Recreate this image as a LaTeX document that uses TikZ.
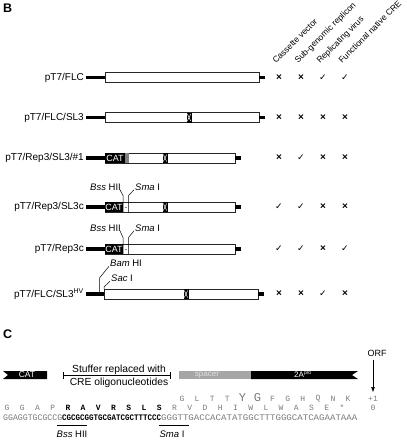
\documentclass[tikz,border=0pt]{standalone}
\usepackage{fontspec}
\setmainfont{Liberation Sans}
\newfontfamily\seqfont{Liberation Mono}
\newfontfamily\dvs{DejaVu Sans}
\usetikzlibrary{arrows.meta}
\definecolor{seqgrey}{HTML}{7A7A7A}
\definecolor{spgrey}{HTML}{A6A6A6}
\tikzset{
  lbl/.style={font=\fontsize{10}{12}\selectfont, anchor=east, inner sep=0pt},
  hdr/.style={font=\fontsize{8.5}{10}\selectfont, rotate=45, anchor=base west, inner sep=0pt},
  mk/.style={font=\fontsize{10}{10}\selectfont\bfseries, inner sep=0pt},
  ckm/.style={font=\fontsize{9}{10}\selectfont\dvs, inner sep=0pt},
  thk/.style={line width=3.5pt},
  vbox/.style={draw=black!85, line width=0.6pt, fill=white},
  site/.style={font=\fontsize{9.5}{11}\selectfont, inner sep=0pt},
  leader/.style={line width=0.5pt},
  panel/.style={font=\fontsize{12.5}{14}\selectfont\bfseries, inner sep=0pt, anchor=north west},
  aa/.style={font=\fontsize{8}{10}\selectfont\seqfont, text=seqgrey, inner sep=0pt},
  aab/.style={font=\fontsize{8}{10}\selectfont\seqfont\bfseries, text=black, inner sep=0pt},
  seq/.style={font=\fontsize{8.5}{10}\selectfont\seqfont, inner sep=0pt, anchor=west},
}
\newcommand\xbox[2]{% x, y centre
  \fill[black] (#1-2.5,#2-5) rectangle (#1+2.5,#2+5);
  \draw[white, line width=0.5pt] (#1-1.7,#2-3.5) -- (#1+1.7,#2+3.5) (#1-1.7,#2+3.5) -- (#1+1.7,#2-3.5);
}
\begin{document}
\begin{tikzpicture}[x=1pt,y=-1pt]
\useasboundingbox (0,0) rectangle (407,440);

\node[panel] (B) at (3,4) {B};

% column headers
\node[hdr] (h1) at (276,64) {Cassette vector};
\node[hdr] (h2) at (298,64) {Sub-genomic replicon};
\node[hdr] (h3) at (320,64) {Replicating virus};
\node[hdr] (h4) at (342,64) {Functional native CRE};

% Row 1
\def\ry{77.5}
\node[lbl] (l1) at (84,\ry) {pT7/FLC};
\draw[thk] (86,\ry) -- (105,\ry);
\draw[vbox] (105,\ry-5) rectangle (259,\ry+5);
\draw[thk] (259,\ry) -- (265,\ry);

% Row 2
\def\ry{117.5}
\node[lbl] (l2) at (84,\ry) {pT7/FLC/SL3};
\draw[thk] (86,\ry) -- (105,\ry);
\draw[vbox] (105,\ry-5) rectangle (259,\ry+5);
\xbox{189}{\ry}
\draw[thk] (259,\ry) -- (265,\ry);

% Row 3
\def\ry{158}
\node[lbl] (l3) at (84,\ry) {pT7/Rep3/SL3/\#1};
\draw[thk] (86,\ry) -- (105,\ry);
\draw[vbox] (105,\ry-5) rectangle (235,\ry+5);
\fill[black] (105,\ry-5) rectangle (125,\ry+5);
\fill[gray] (125,\ry-5) rectangle (129,\ry+5);
\node[font=\fontsize{9}{10}\selectfont, text=white, inner sep=0pt] (cat3) at (115,\ry) {CAT};
\xbox{165}{\ry}
\draw[thk] (235,\ry) -- (241,\ry);

% Row 4
\def\ry{207}
\node[lbl] (l4) at (84,\ry) {pT7/Rep3/SL3c};
\draw[thk] (86,\ry) -- (105,\ry);
\draw[vbox] (105,\ry-5) rectangle (235,\ry+5);
\fill[black] (105,\ry-5) rectangle (123,\ry+5);
\node[font=\fontsize{9}{10}\selectfont, text=white, inner sep=0pt] (cat4) at (114,\ry) {CAT};
\draw[gray, line width=0.8pt] (124.5,\ry) -- (127,\ry);
\xbox{165}{\ry}
\draw[thk] (235,\ry) -- (241,\ry);
\node[site, anchor=base east] (bss4) at (121,190) {\textit{Bss} HII};
\node[site, anchor=base west] (sma4) at (135,190) {\textit{Sma} I};
\coordinate (bss4s) at (123,\ry+5);
\coordinate (sma4s) at (128.5,\ry+5);
\draw[leader] (bss4.south east) ++(-1,-0.5) -- (123,195.5) -- (bss4s);
\draw[leader] (sma4.south west) ++(-1,-0.5) -- (128.5,195.5) -- (sma4s);

% Row 5
\def\ry{249}
\node[lbl] (l5) at (84,\ry) {pT7/Rep3c};
\draw[thk] (86,\ry) -- (105,\ry);
\draw[vbox] (105,\ry-5) rectangle (235,\ry+5);
\fill[black] (105,\ry-5) rectangle (123,\ry+5);
\node[font=\fontsize{9}{10}\selectfont, text=white, inner sep=0pt] (cat5) at (114,\ry) {CAT};
\draw[gray, line width=0.8pt] (124.5,\ry) -- (127,\ry);
\draw[thk] (235,\ry) -- (241,\ry);
\node[site, anchor=base east] (bss5) at (121,231) {\textit{Bss} HII};
\node[site, anchor=base west] (sma5) at (135,231) {\textit{Sma} I};
\coordinate (bss5s) at (123,\ry+5);
\coordinate (sma5s) at (128.5,\ry+5);
\draw[leader] (bss5.south east) ++(-1,-0.5) -- (123,237.5) -- (bss5s);
\draw[leader] (sma5.south west) ++(-1,-0.5) -- (128.5,237.5) -- (sma5s);

% Row 6
\def\ry{294}
\node[lbl] (l6) at (84,\ry) {pT7/FLC/SL3\textsuperscript{HV}};
\draw[thk] (86,\ry) -- (104,\ry);
\draw[vbox] (104,\ry-5) rectangle (258,\ry+5);
\xbox{186}{\ry}
\draw[thk] (258,\ry) -- (264,\ry);
\node[site, anchor=base west] (bam6) at (110,266.5) {\textit{Bam} HI};
\node[site, anchor=base west] (sac6) at (111,281.5) {\textit{Sac} I};
\coordinate (bam6s) at (99.5,\ry);
\coordinate (sac6s) at (104,\ry-5);
\draw[leader] (bam6.south west) ++(-1,-0.5) -- (99.5,278) -- (bam6s);
\draw[leader] (sac6.south west) ++(-1,-0.5) -- (104,287) -- (sac6s);

% marks
\foreach \r/\y/\a/\b/\c/\d in {1/77.5/x/x/c/c, 2/117.5/x/x/x/x, 3/158/x/c/x/x, 4/207/c/c/x/x, 5/249/c/c/x/c, 6/294/x/x/c/x}{
  \foreach \v/\cx/\k in {\a/279/1, \b/301/2, \c/323/3, \d/345/4}{
    \if\v x
      \node[mk] (m\r\k) at (\cx,\y) {×};
    \else
      \node[ckm] (m\r\k) at (\cx,\y) {✓};
    \fi
  }
}

% Panel C
\node[panel] (C) at (3,330) {C};

\fill[black] (3,371) -- (47,371) -- (47,379) -- (3,379) -- (8,375) -- cycle;
\node[font=\fontsize{8.5}{10}\selectfont, text=white, inner sep=0pt] (catc) at (27,375) {CAT};

\draw[line width=0.6pt] (63,372) -- (63,379) (63,375.5) -- (170,375.5) (170,372) -- (170,379);
\node[font=\fontsize{10.3}{12}\selectfont, inner sep=0pt] (stuf1) at (119,370) {Stuffer replaced with};
\node[font=\fontsize{10.3}{12}\selectfont, inner sep=0pt] (stuf2) at (119,383) {CRE oligonucleotides};

\fill[spgrey] (179,371) rectangle (251,379);
\node[font=\fontsize{8}{10}\selectfont, text=white!88!black, inner sep=0pt] (spc) at (207,375) {spacer};
\fill[black] (251,371) -- (358,371) -- (352,375) -- (358,379) -- (251,379) -- cycle;
\node[font=\fontsize{8}{10}\selectfont, text=white, inner sep=0pt] (twoA) at (303,375) {2A\textsuperscript{\fontsize{5}{6}\selectfont pro}};

\node[font=\fontsize{9}{10}\selectfont, inner sep=0pt] (orf) at (377,353) {ORF};
\coordinate (orfend) at (373,392);
\draw[line width=0.6pt, -{Triangle[length=5pt,width=3.5pt]}] (373,360) -- (orfend);

% frame +1
\foreach \a [count=\i from 0] in {G,L,T,T,Y,G,F,G,H,Q,N,K}{
  \ifnum\i=4
    \node[aa, font=\fontsize{12}{12}\selectfont\seqfont] (fa\i) at (182+15.1*\i,397.5) {\a};
  \else\ifnum\i=5
    \node[aa, font=\fontsize{12}{12}\selectfont\seqfont] (fa\i) at (182+15.1*\i,397.5) {\a};
  \else
    \node[aa] (fa\i) at (182+15.1*\i,399) {\a};
  \fi\fi
}
\node[aa] (p1) at (373,399) {+1};

% frame 0
\foreach \a [count=\i from 0] in {G,G,A,P,R,A,V,R,S,L,S,R,V,D,H,I,W,L,W,A,S,E,*}{
  \ifnum\i<4
    \node[aa] (aa\i) at (7+15.23*\i,408) {\a};
  \else\ifnum\i>10
    \node[aa] (aa\i) at (7+15.23*\i,408) {\a};
  \else
    \node[aab] (aa\i) at (7+15.23*\i,408) {\a};
  \fi\fi
}
\node[aa] (p0) at (373,408) {0};

% nucleotide sequence
\node[seq, text=seqgrey, xscale=0.964] (s1) at (3,418) {GGAGGTGCGCCG};
\node[seq, font=\fontsize{8.5}{10}\selectfont\seqfont\bfseries, xscale=0.882] (s2) at (62,418) {CGCGCGGTGCGATCGCTTTCCC};
\node[seq, text=seqgrey, xscale=1.068] (s3) at (161,418) {GGGTTGACCACATATGGCTTTGGGCATCAGAATAAA};

\draw[line width=0.9pt] (57,425) -- (87,425);
\draw[line width=0.9pt] (159,425) -- (189,425);
\node[site, font=\fontsize{9.5}{11}\selectfont] (bssc) at (72,434.5) {\textit{Bss} HII};
\node[site, font=\fontsize{9.5}{11}\selectfont] (smac) at (172,434.5) {\textit{Sma} I};
\end{tikzpicture}
\end{document}
